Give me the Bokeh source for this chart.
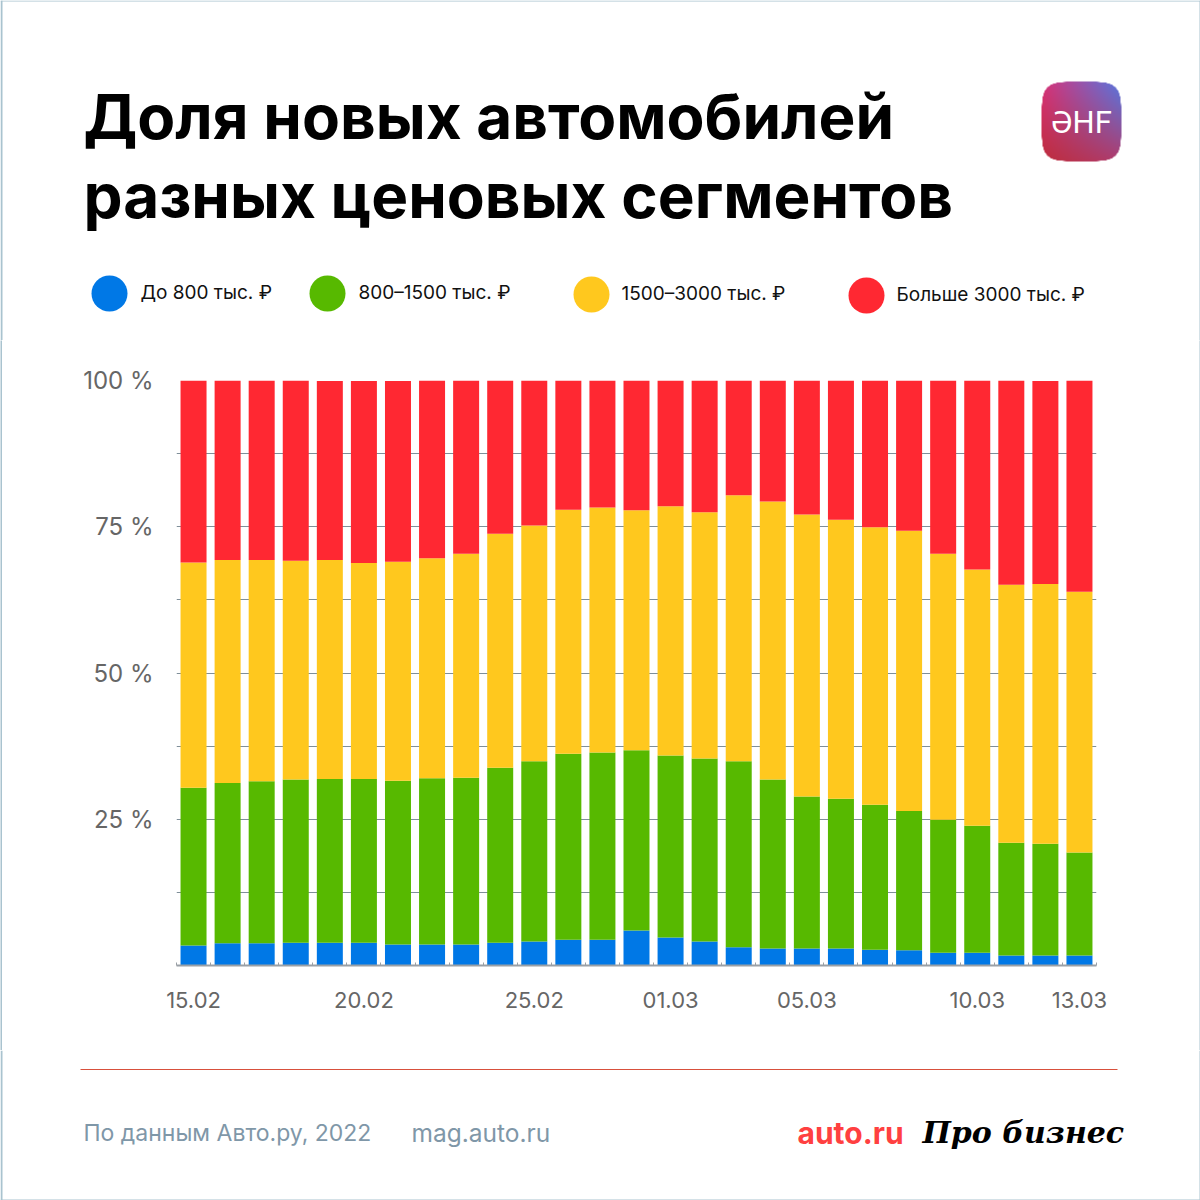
import numpy as np
from bokeh.plotting import figure
from bokeh.layouts import column, row
from bokeh.models import Range1d, FixedTicker, ColumnDataSource
from bokeh.core.properties import value
from bokeh.embed import file_html
from bokeh.resources import INLINE

TITLE_LINES = ["Доля новых автомобилей", "разных ценовых сегментов"]
SERIES = ["До 800 тыс. ₽", "800–1500 тыс. ₽", "1500–3000 тыс. ₽", "Больше 3000 тыс. ₽"]
DATES = ["15.02","16.02","17.02","18.02","19.02","20.02","21.02","22.02","23.02","24.02","25.02","26.02","27.02","28.02",
         "01.03","02.03","03.03","04.03","05.03","06.03","07.03","08.03","09.03","10.03","11.03","12.03","13.03"]
SHOWN_DATES = ["15.02","20.02","25.02","01.03","05.03","10.03","13.03"]
Y_LABELS = {0: "", 25: "25 %", 50: "50 %", 75: "75 %", 100: "100 %"}
under_800 = [3.4,3.8,3.8,3.9,3.9,3.9,3.6,3.6,3.6,3.9,4.1,4.4,4.4,6.0,4.8,4.1,3.1,2.9,2.9,2.9,2.7,2.6,2.2,2.2,1.7,1.7,1.7]
from_800 = [27.0,27.4,27.7,27.9,28.0,28.0,28.0,28.4,28.5,29.9,30.8,31.8,32.0,30.8,31.1,31.3,31.8,28.9,26.0,25.6,24.8,23.8,22.7,21.7,19.3,19.1,17.6]
from_1500 = [38.5,38.1,37.8,37.4,37.4,36.9,37.4,37.6,38.3,40.0,40.3,41.7,41.9,41.0,42.6,42.1,45.5,47.5,48.2,47.7,47.4,47.9,45.5,43.8,44.1,44.4,44.6]
over_3000 = [31.1,30.8,30.8,30.8,30.6,31.1,30.9,30.4,29.6,26.2,24.8,22.1,21.7,22.2,21.5,22.6,19.7,20.7,22.9,23.8,25.1,25.8,29.6,32.3,34.9,34.7,36.1]
COLORS = ["#0078E6", "#57B900", "#FFC81E", "#FF2832"]

FONT = "Inter"
FRAME_COLOR = "#A9C3CF"
W = 1200
H = 1200
HEAD_BOTTOM, FOOT_TOP = 340, 1050
STRIP_L, STRIP_R = 2, 1


def canvas(top, bottom):
    p = figure(width=W, height=bottom - top, x_range=Range1d(0, W), y_range=Range1d(-bottom, -top),
               x_axis_type=None, y_axis_type=None, toolbar_location=None, output_backend="svg",
               min_border=0, outline_line_color=None, background_fill_color="white", border_fill_color="white",
               frame_align=False)
    p.grid.visible = False
    p.segment([STRIP_L / 2], [-top], [STRIP_L / 2], [-bottom], line_color=FRAME_COLOR, line_width=STRIP_L)
    p.segment([W - STRIP_R / 2], [-top], [W - STRIP_R / 2], [-bottom], line_color=FRAME_COLOR, line_width=STRIP_R)
    return p


def strip(width, height):
    s = figure(width=width, height=height, x_axis_type=None, y_axis_type=None, toolbar_location=None,
               output_backend="svg", min_border=0, outline_line_color=None, frame_align=False,
               background_fill_color=FRAME_COLOR, border_fill_color=FRAME_COLOR)
    s.grid.visible = False
    return s


def label(p, x, y, text, size, color, align="left", style="normal", base="middle", font=FONT):
    p.text([x], [-y], text=[text], text_font=value(font), text_font_size=f"{size}px", text_color=color,
           text_align=align, text_baseline=base, text_font_style=style)


# header
head = canvas(0, HEAD_BOTTOM)
head.segment([0], [-0.5], [W], [-0.5], line_color=FRAME_COLOR, line_width=1)
label(head, 83, 116, TITLE_LINES[0], 62, "#000000", style="bold", base="alphabetic")
label(head, 83, 195, TITLE_LINES[1], 62, "#000000", style="bold", base="alphabetic")

n = 240
u, v = np.meshgrid(np.linspace(0, 1, n), np.linspace(0, 1, n))  # v=0 bottom
bl, tl, tr, br = (np.array(c, dtype=float) for c in ([190, 45, 60], [218, 50, 120], [85, 120, 225], [175, 60, 110]))
uu, vv = u[..., None], v[..., None]
rgb = (1 - uu) * (1 - vv) * bl + (1 - uu) * vv * tl + uu * vv * tr + uu * (1 - vv) * br
f = np.abs(2 * u - 1) ** 4.5 + np.abs(2 * v - 1) ** 4.5
alpha = np.clip((1 - f) * 40, 0, 1) * 255.0
img = np.zeros((n, n), dtype=np.uint32)
view = img.view(np.uint8).reshape((n, n, 4))
view[..., :3] = rgb.astype(np.uint8)
view[..., 3] = alpha.astype(np.uint8)
head.image_rgba(image=[img], x=[1041], y=[-161], dw=[80], dh=[80])
label(head, 1081, 122, "ƏHF", 31, "#FFFFFF", align="center", font="Roboto")

LEGEND_X = [109, 327, 591, 866]
LEGEND_Y = [293, 293, 294, 295]
TEXT_X = [140, 358, 621, 896]
for name, col, cx, cy, tx in zip(SERIES, COLORS, LEGEND_X, LEGEND_Y, TEXT_X):
    head.scatter([cx], [-cy], size=36, color=col, line_color=None, marker="circle")
    label(head, tx, cy - 1, name, 19, "#111111")

# chart
F_LEFT, F_RIGHT, F_TOP, F_BOTTOM = 176, 1096, 380, 965
CH = FOOT_TOP - HEAD_BOTTOM
p = figure(width=W - STRIP_L - STRIP_R, height=CH, x_range=Range1d(-0.5, len(DATES) - 0.5), y_range=Range1d(0, 100),
           toolbar_location=None, output_backend="svg", outline_line_color=None, frame_align=False,
           min_border_left=F_LEFT - STRIP_L, min_border_right=W - F_RIGHT - STRIP_R,
           min_border_top=F_TOP - HEAD_BOTTOM, min_border_bottom=FOOT_TOP - F_BOTTOM)
src = ColumnDataSource(dict(x=list(range(len(DATES))), a=under_800, b=from_800, c=from_1500, d=over_3000))
p.vbar_stack(["a", "b", "c", "d"], x="x", width=0.763, color=COLORS, line_color=None, source=src)

p.ygrid.ticker = FixedTicker(ticks=[i * 12.5 for i in range(9)])
p.ygrid.grid_line_color = "#7F8F99"
p.ygrid.grid_line_width = 1
p.xgrid.visible = False

p.yaxis.ticker = FixedTicker(ticks=list(Y_LABELS))
p.yaxis.major_label_overrides = Y_LABELS
p.yaxis.axis_line_color = None
p.yaxis.major_tick_line_color = None
p.yaxis.minor_tick_line_color = None
p.yaxis.major_label_standoff = 17
p.yaxis.major_label_text_font = FONT
p.yaxis.major_label_text_font_size = "24px"
p.yaxis.major_label_text_color = "#666666"

idx = [DATES.index(d) for d in SHOWN_DATES]
p.xaxis.ticker = FixedTicker(ticks=idx, minor_ticks=[i - 0.5 for i in range(len(DATES) + 1)])
p.xaxis.major_label_overrides = {i: DATES[i] for i in idx}
p.xaxis.axis_line_color = "#9AA0A6"
p.xaxis.axis_line_width = 2
p.xaxis.major_tick_line_color = None
p.xaxis.minor_tick_line_color = "#9AA0A6"
p.xaxis.minor_tick_in = 3
p.xaxis.minor_tick_out = 0
p.xaxis.major_label_standoff = 20
p.xaxis.major_label_text_font = FONT
p.xaxis.major_label_text_font_size = "22px"
p.xaxis.major_label_text_color = "#666666"

# footer
foot = canvas(FOOT_TOP, H)
foot.segment([0], [-H + 0.5], [W], [-H + 0.5], line_color=FRAME_COLOR, line_width=1)
foot.segment([80], [-1069], [1117], [-1069], line_color="#D8503C", line_width=1)
label(foot, 83, 1132, "По данным Авто.ру, 2022", 23, "#7F97A8")
label(foot, 411, 1132, "mag.auto.ru", 24.5, "#7F97A8")
label(foot, 797, 1132, "auto.ru", 30, "#FF4040", style="bold")
label(foot, 922, 1132, "Про бизнес", 30, "#000000", style="bold italic", font="DejaVu Serif")

middle = row(strip(STRIP_L, CH), p, strip(STRIP_R, CH), spacing=0)
layout = column(head, middle, foot, spacing=0)
open("out.html", "w").write(file_html(layout, INLINE))
